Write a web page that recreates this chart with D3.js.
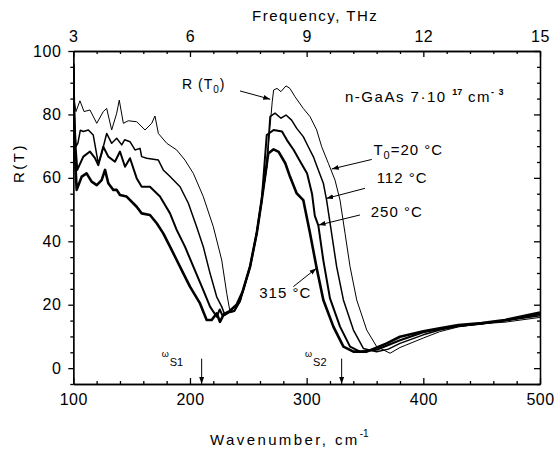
<!DOCTYPE html>
<html>
<head>
<meta charset="utf-8">
<script src="https://cdn.jsdelivr.net/npm/d3@7"></script>
<style>
  body { margin: 0; background: #fff; }
  text { font-family: "Liberation Sans", Arial, sans-serif; fill: #000; }
  .axis path, .axis line { stroke: #000; stroke-width: 1.3; }
  .axis text { font-size: 16px; letter-spacing: 0.5px; }
</style>
</head>
<body>
<script>
// wavenumber (cm-1), R (%)
var curve20 = [[100,96],[101,84],[102.3,80.9],[105.7,84.3],[109.2,80.9],[114.3,81.4],[120.1,77.2],[125.7,80.9],[128.6,81.9],[132.9,75.1],[137.2,80.4],[139.4,84.5],[142.9,77.2],[147.1,78.0],[154.3,77.7],[161.5,75.1],[167.2,77.2],[170,79.5],[172.9,74.0],[180.1,70.9],[188.6,68.8],[195.7,65.6],[202.9,61.4],[211.4,54.1],[220,44.6],[227.2,34.1],[231.5,23.6],[234.3,17.8],[238,18.2],[243,21.5],[251.5,32],[257.2,43],[261.5,53],[265.8,63],[268.6,76],[270.5,84],[271.7,87.7],[274.6,88.2],[278,87.2],[282.3,89],[285.7,88.2],[290,85.6],[297.1,81.9],[302.9,79.3],[308.6,75.1],[312.9,69.8],[318.6,64.6],[324.3,59.3],[328.6,53],[332.9,42.5],[337.2,32],[342.9,21.5],[351.5,12],[360,6.8],[371.5,4.7],[380,6.5],[400,9.5],[414,11.5],[430,13],[450,14],[470,14.5],[500,16]];
var curve112 = [[100,96],[101,80],[102.3,69.8],[104,71],[106,75],[108.6,74.6],[112.9,75.1],[117.1,73.5],[121.4,64.6],[124.3,67.7],[128.6,74.0],[132.9,70.9],[137.2,72.5],[141.5,70.4],[144,72],[148.6,71.4],[152.9,68.8],[157.2,69.3],[158.6,66.7],[162.9,66.2],[172.9,65.6],[177.1,62.5],[182.9,60.4],[191.5,57.2],[198.6,52],[205.7,44.6],[211.4,38.3],[217.2,29.9],[222.9,22.5],[227.2,19.4],[230,16.7],[233,17.5],[238,18],[243,21],[251.5,32],[257.2,42.5],[261.5,53],[265.8,64],[268.6,79.3],[272.9,80.4],[278,78.8],[282.3,79.8],[287.1,78.2],[291.5,75.6],[297.1,73],[301.4,69.8],[305.7,66.7],[310,62.5],[314.3,58.3],[317.1,53],[321.4,42.5],[325.7,32],[331.5,21.5],[340.1,12],[348.6,6.2],[360,5.2],[370,6],[380,7.8],[400,10.5],[414,12],[430,13.2],[450,14],[470,15],[500,16.5]];
var curve250 = [[100,96],[101,75],[103.4,62.5],[108.6,66.7],[114.3,68.3],[118.6,66.2],[121.4,64],[125.7,69.8],[130,66.7],[135.7,65.1],[140,68.3],[144.3,63.5],[148.6,66.2],[154.3,59.9],[158.6,57.2],[165.7,57.2],[174.3,54.1],[182.9,48.8],[188.6,43.6],[195.7,38.3],[202.9,32],[211.4,24.6],[217.2,19.4],[222.9,16.2],[225.5,18.5],[228,16.5],[233,17.5],[238,18],[243,21.5],[251.5,32],[257.2,42.5],[261.5,53],[265.8,73.5],[271.7,75.1],[278.9,74.6],[283.1,71.9],[288.9,68.8],[294.6,65.1],[300.4,61.4],[304.6,55],[307,48],[310,45],[314.3,34],[320,22],[328.6,13.1],[337.2,6.8],[345.7,5.2],[360,5.8],[380,8.8],[400,11.3],[414,12.3],[430,13.3],[450,14],[470,15],[500,17]];
var curve315 = [[100,96],[101,70],[102.9,56.2],[107.2,60.4],[111.4,61.4],[115.7,58.8],[120.1,57.7],[124.3,59.3],[127.2,62.5],[130,58.3],[134.3,56.2],[137.2,56.2],[140,54.6],[145.7,54.1],[154.3,50.9],[158.6,48.8],[165.7,48.3],[171.5,45.7],[177.1,42.5],[182.9,38.3],[188.6,34.1],[194.3,29.9],[200,25.7],[208.6,20.4],[214.3,15.2],[218.6,15.2],[222.9,17.3],[225.7,14.6],[229,17],[234,18],[240,20],[245,24],[251.5,32],[257.2,42.5],[261.5,53],[267.1,67.7],[271.7,69],[276,68.2],[281.7,64.6],[285.7,60.4],[291.5,55.1],[297.1,53],[302.9,42.5],[308.6,31.5],[314.3,21.5],[322.9,13.1],[331.5,6.8],[340.1,5.2],[351.5,5.2],[368.6,7.8],[380,9.9],[400,11.6],[414,12.6],[430,13.6],[450,14.2],[470,15.2],[500,17.5]];

var curves = [curve20, curve112, curve250, curve315];
var widths = [1, 1.5, 2, 2.6];

var xTicks = [100, 200, 300, 400, 500];
var freqTicks = [3, 6, 9, 12, 15];
var yTicks = [0, 20, 40, 60, 80, 100];

var svg = d3.select("body").append("svg")
    .attr("width", 555)
    .attr("height", 455);

var x = d3.scaleLinear().domain([100, 500]).range([73.3, 540]);
var xf = d3.scaleLinear().domain([3, 15]).range([73.3, 540]);
var y = d3.scaleLinear().domain([-5, 100]).range([384, 51]);

var xMinor = d3.range(100, 501, 20).filter(function(d){ return d % 100 != 0; });
var fMinor = d3.range(0, 21).map(function(i){ return 3 + i * 0.6; }).filter(function(d, i){ return i % 5 != 0; });
var yMinor = d3.range(-5, 101, 5).filter(function(d){ return d % 20 != 0; });

// minor ticks first
svg.append("g").attr("class", "axis").attr("transform", "translate(0,384)")
    .call(d3.axisBottom(x).tickValues(xMinor).tickSize(-3).tickSizeOuter(0).tickFormat(""));
svg.append("g").attr("class", "axis").attr("transform", "translate(0,51)")
    .call(d3.axisTop(xf).tickValues(fMinor).tickSize(-3).tickSizeOuter(0).tickFormat(""));
svg.append("g").attr("class", "axis").attr("transform", "translate(73.3,0)")
    .call(d3.axisLeft(y).tickValues(yMinor).tickSize(3).tickSizeOuter(0).tickFormat(""));
svg.append("g").attr("class", "axis").attr("transform", "translate(540,0)")
    .call(d3.axisRight(y).tickValues(yMinor).tickSize(-3).tickSizeOuter(0).tickFormat(""));

// major ticks
svg.append("g").attr("class", "axis").attr("transform", "translate(0,384)")
    .call(d3.axisBottom(x).tickValues(xTicks).tickSize(-6).tickSizeOuter(0).tickPadding(9.5));
svg.append("g").attr("class", "axis").attr("transform", "translate(0,51)")
    .call(d3.axisTop(xf).tickValues(freqTicks).tickSize(-6).tickSizeOuter(0).tickPadding(9.5));
svg.append("g").attr("class", "axis").attr("transform", "translate(73.3,0)")
    .call(d3.axisLeft(y).tickValues(yTicks).tickSize(5).tickSizeOuter(0).tickPadding(7));
svg.append("g").attr("class", "axis").attr("transform", "translate(540,0)")
    .call(d3.axisRight(y).tickValues(yTicks).tickSize(-6).tickSizeOuter(0).tickFormat(""));

svg.selectAll(".axis text").attr("fill", "#000");

// curves
svg.append("clipPath").attr("id", "clip").append("rect")
    .attr("x", 73.3).attr("y", 51).attr("width", 540 - 73.3).attr("height", 384 - 51);

var line = d3.line()
    .x(function(d){ return x(d[0]); })
    .y(function(d){ return y(d[1]); });

svg.append("g").attr("clip-path", "url(#clip)")
    .selectAll("path")
    .data(curves)
    .enter().append("path")
    .attr("d", line)
    .attr("fill", "none")
    .attr("stroke", "#000")
    .attr("stroke-linejoin", "round")
    .attr("stroke-width", function(d, i){ return widths[i]; });

// axis titles
svg.append("text")
    .attr("x", 252).attr("y", 21)
    .attr("font-size", 15).attr("letter-spacing", "1.5px")
    .text("Frequency, THz");

var xl = svg.append("text")
    .attr("x", 210).attr("y", 445)
    .attr("font-size", 15).attr("letter-spacing", "2.4px");
xl.append("tspan").text("Wavenumber, cm");
xl.append("tspan").attr("font-size", 10).attr("dy", -8).attr("letter-spacing", "0px").text("-1");

svg.append("text")
    .attr("transform", "translate(24,163) rotate(-90)")
    .attr("text-anchor", "middle")
    .attr("font-size", 15).attr("letter-spacing", "2.5px")
    .text("R(T)");

// arrows
svg.append("defs").append("marker")
    .attr("id", "arr")
    .attr("viewBox", "0 0 10 10")
    .attr("refX", 10).attr("refY", 5)
    .attr("markerWidth", 7).attr("markerHeight", 7)
    .attr("markerUnits", "userSpaceOnUse")
    .attr("orient", "auto")
    .append("path").attr("d", "M0,1.5 L10,5 L0,8.5 Z").attr("fill", "#000");

var arrows = [
  [[242.9, 87.4], [268.8, 84.8]],
  [[355.8, 65.8], [321.5, 62.8]],
  [[350, 56.7], [316.8, 53.5]],
  [[345.7, 48.3], [310.2, 45.1]],
  [[288.6, 25.7], [308.4, 31.5]],
  [[210, 3], [210, -5]],
  [[330, 3], [330, -5]]
];
svg.selectAll("line.arrow")
    .data(arrows)
    .enter().append("line")
    .attr("class", "arrow")
    .attr("x1", function(d){ return x(d[0][0]); })
    .attr("y1", function(d){ return y(d[0][1]); })
    .attr("x2", function(d){ return x(d[1][0]); })
    .attr("y2", function(d){ return y(d[1][1]); })
    .attr("stroke", "#000")
    .attr("stroke-width", 1)
    .attr("marker-end", "url(#arr)");

// labels
var t;
t = svg.append("text").attr("x", x(193.2)).attr("y", y(87.9)).attr("font-size", 14).attr("letter-spacing", "1px");
t.append("tspan").text("R (T");
t.append("tspan").attr("font-size", 10).attr("dy", 4).text("0");
t.append("tspan").attr("dy", -4).text(")");

t = svg.append("text").attr("x", x(332.9)).attr("y", y(84)).attr("font-size", 15).attr("letter-spacing", "1.5px");
t.append("tspan").text("n-GaAs  7·10 ");
t.append("tspan").attr("font-size", 9).attr("font-weight", "bold").attr("dy", -7).attr("letter-spacing", "0px").text("17");
t.append("tspan").attr("dy", 7).text(" cm");
t.append("tspan").attr("font-size", 9).attr("font-weight", "bold").attr("dy", -7).attr("letter-spacing", "1px").text("- 3");

t = svg.append("text").attr("x", x(357.2)).attr("y", y(67.2)).attr("font-size", 15).attr("letter-spacing", "1px");
t.append("tspan").text("T");
t.append("tspan").attr("font-size", 11).attr("dy", 4).text("0");
t.append("tspan").attr("dy", -4).text("=20 °C");

svg.append("text").attr("x", x(360)).attr("y", y(58.3)).attr("font-size", 15).attr("letter-spacing", "1px").text("112 °C");
svg.append("text").attr("x", x(354.9)).attr("y", y(47.7)).attr("font-size", 15).attr("letter-spacing", "1px").text("250 °C");
svg.append("text").attr("x", x(259.4)).attr("y", y(22.2)).attr("font-size", 15).attr("letter-spacing", "1px").text("315 °C");

t = svg.append("text").attr("x", x(175.8)).attr("y", y(0.6)).attr("font-size", 11);
t.append("tspan").attr("font-size", 9).attr("dy", -9).text("ω");
t.append("tspan").attr("dy", 9).attr("dx", 1).text("S1");

t = svg.append("text").attr("x", x(298.6)).attr("y", y(0.6)).attr("font-size", 11);
t.append("tspan").attr("font-size", 9).attr("dy", -9).text("ω");
t.append("tspan").attr("dy", 9).attr("dx", 1).text("S2");
</script>
</body>
</html>
